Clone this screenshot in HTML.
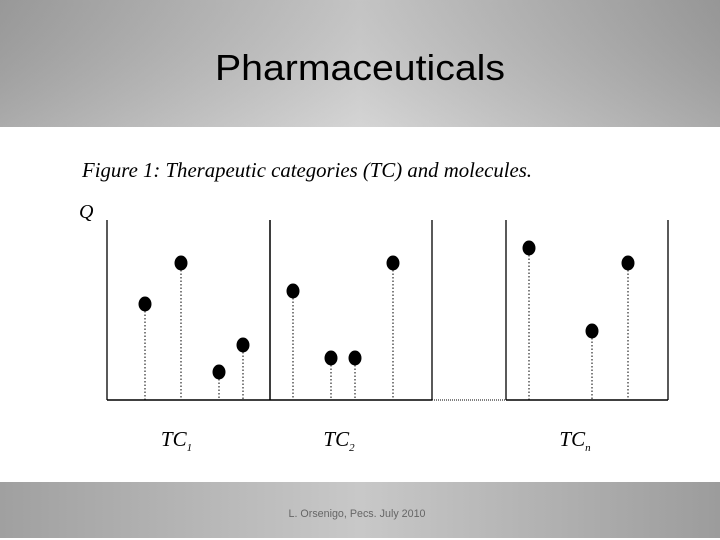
<!DOCTYPE html>
<html><head><meta charset="utf-8"><style>
html,body{margin:0;padding:0;background:#fff;}
svg{display:block;}
</style></head><body>
<svg id="chart" width="720" height="540" viewBox="0 0 720 540" xmlns="http://www.w3.org/2000/svg">
<defs>
<linearGradient id="hg" x1="0" y1="0" x2="1" y2="0">
<stop offset="0" stop-color="#a2a2a2"/><stop offset="0.5" stop-color="#d0d0d0"/><stop offset="1" stop-color="#a0a0a0"/></linearGradient>
<linearGradient id="hv" x1="0" y1="0" x2="0" y2="1">
<stop offset="0" stop-color="#000" stop-opacity="0.06"/><stop offset="1" stop-color="#fff" stop-opacity="0.1"/></linearGradient>
<linearGradient id="fg" x1="0" y1="0" x2="1" y2="0">
<stop offset="0" stop-color="#a0a0a0"/><stop offset="0.5" stop-color="#c8c8c8"/><stop offset="1" stop-color="#9c9c9c"/></linearGradient>
</defs>
<rect x="0" y="0" width="720" height="127" fill="url(#hg)"/>
<rect x="0" y="0" width="720" height="127" fill="url(#hv)"/>
<text x="360" y="80" text-anchor="middle" font-family="Liberation Sans, sans-serif" font-size="36" textLength="290" lengthAdjust="spacingAndGlyphs" fill="#000">Pharmaceuticals</text>
<rect x="0" y="482" width="720" height="56" fill="url(#fg)"/>
<text x="357" y="517" text-anchor="middle" font-family="Liberation Sans, sans-serif" font-size="11" textLength="137" lengthAdjust="spacingAndGlyphs" fill="#666">L. Orsenigo, Pecs. July 2010</text>
<text x="82" y="177" font-family="Liberation Serif, serif" font-style="italic" font-size="21" textLength="450" lengthAdjust="spacingAndGlyphs" fill="#000">Figure 1: Therapeutic categories (TC) and molecules.</text>
<text x="79" y="218" font-family="Liberation Serif, serif" font-style="italic" font-size="20" fill="#000">Q</text>
<g id="plot"></g>
</svg>
<script>
const categories = ["TC1", "TC2", "TCn"];
const tc1Values = [96, 137, 28, 55];
const tc2Values = [109, 42, 42, 137];
const tcnValues = [152, 69, 137];
const subscripts = ["1", "2", "n"];

const NS = "http://www.w3.org/2000/svg";
const plot = document.getElementById("plot");
const baseY = 400, topY = 220;
const yScale = v => baseY - v;
const panels = [
  {x0: 107, x1: 270, xs: [145, 181, 219, 243]},
  {x0: 270, x1: 432, xs: [293, 331, 355, 393]},
  {x0: 506, x1: 668, xs: [529, 592, 628]}
];
const series = [tc1Values, tc2Values, tcnValues];
function mk(tag, attrs){const e=document.createElementNS(NS,tag);for(const k in attrs)e.setAttribute(k,attrs[k]);plot.appendChild(e);return e;}

panels.forEach((p, i) => {
  let l = mk("line", {x1:p.x0, y1:topY, x2:p.x0, y2:baseY, stroke:"#000", "stroke-width":1.3});
  
  
  l = mk("line", {x1:p.x1, y1:topY, x2:p.x1, y2:baseY, stroke:"#000", "stroke-width":1.3});
  
  
  l = mk("line", {x1:p.x0, y1:baseY, x2:p.x1, y2:baseY, stroke:"#000", "stroke-width":1.5});
  
  
  series[i].forEach((v, j) => {
    const x = p.xs[j] !== undefined ? p.xs[j] : p.x0 + 20 + j*35;
    const y = yScale(v);
    const s = mk("line", {x1:x, y1:y, x2:x, y2:baseY, stroke:"#000", "stroke-width":1, "stroke-dasharray":"1.5,2"});
    
    
    const d = mk("ellipse", {cx:x, cy:y, rx:6.5, ry:7.5, fill:"#000"});
    
    
  });
  const cx = (p.x0 + p.x1)/2 - 12;
  const t = mk("text", {x:cx, y:446, "font-family":"Liberation Serif, serif", "font-style":"italic", "font-size":21, "text-anchor":"middle", fill:"#000"});
  t.textContent = "TC";
  const sub = document.createElementNS(NS, "tspan");
  sub.setAttribute("font-size", "11");
  sub.setAttribute("dy", "5");
  sub.textContent = subscripts[i];
  t.appendChild(sub);
  
  
});
const gap = mk("line", {x1:432, y1:baseY, x2:506, y2:baseY, stroke:"#000", "stroke-width":1, "stroke-dasharray":"1,1"});


</script>
</body></html>
